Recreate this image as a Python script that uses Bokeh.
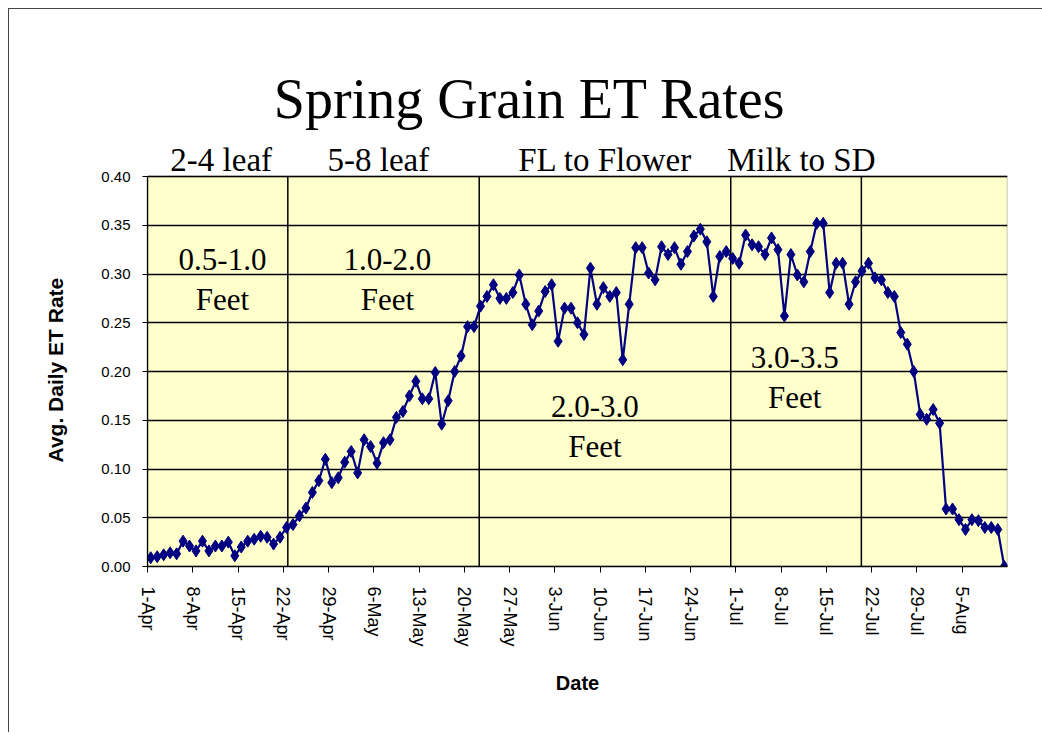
from bokeh.plotting import figure
from bokeh.layouts import column
from bokeh.models import (FixedTicker, NumeralTickFormatter, Label, Range1d, Title,
                          ColumnDataSource, BoxAnnotation)
from bokeh.embed import file_html
from bokeh.resources import INLINE

# ---- data (daily average ET rate, one value per day from 1-Apr) ----
et_rate = [
    0.009, 0.010, 0.012, 0.014, 0.013, 0.026, 0.021, 0.016, 0.026, 0.016,
    0.021, 0.021, 0.025, 0.011, 0.020, 0.026, 0.028, 0.031, 0.030, 0.023,
    0.030, 0.040, 0.043, 0.052, 0.060, 0.076, 0.088, 0.110, 0.086, 0.091,
    0.107, 0.118, 0.096, 0.130, 0.123, 0.106, 0.127, 0.130, 0.153, 0.159,
    0.175, 0.190, 0.172, 0.172, 0.199, 0.146, 0.170, 0.200, 0.216, 0.246,
    0.246, 0.267, 0.277, 0.289, 0.275, 0.275, 0.281, 0.299, 0.269, 0.248,
    0.262, 0.282, 0.289, 0.231, 0.265, 0.265, 0.250, 0.238, 0.306, 0.269,
    0.286, 0.277, 0.281, 0.212, 0.269, 0.327, 0.327, 0.301, 0.294, 0.328,
    0.320, 0.327, 0.310, 0.323, 0.339, 0.346, 0.333, 0.277, 0.318, 0.323,
    0.316, 0.311, 0.340, 0.330, 0.328, 0.320, 0.337, 0.325, 0.257, 0.320,
    0.299, 0.292, 0.323, 0.352, 0.352, 0.281, 0.311, 0.311, 0.269, 0.292,
    0.303, 0.311, 0.296, 0.294, 0.281, 0.277, 0.240, 0.228, 0.200, 0.156,
    0.151, 0.161, 0.147, 0.059, 0.059, 0.048, 0.038, 0.048, 0.047, 0.040,
    0.040, 0.038, 0.000,
]
day_index = list(range(len(et_rate)))

tick_days = [0, 7, 14, 21, 28, 35, 42, 49, 56, 63, 70, 77, 84, 91, 98, 105, 112, 119, 126]
tick_labels = ["1-Apr", "8-Apr", "15-Apr", "22-Apr", "29-Apr", "6-May", "13-May", "20-May",
               "27-May", "3-Jun", "10-Jun", "17-Jun", "24-Jun", "1-Jul", "8-Jul", "15-Jul",
               "22-Jul", "29-Jul", "5-Aug"]
y_ticks = [0.0, 0.05, 0.10, 0.15, 0.20, 0.25, 0.30, 0.35, 0.40]

stage_names = ["2-4 leaf", "5-8 leaf", "FL to Flower", "Milk to SD"]
stage_bounds = [21.7, 51.3, 90.2, 110.4]
height_ranges = ["0.5-1.0", "1.0-2.0", "2.0-3.0", "3.0-3.5"]

SANS = "Liberation Sans"
SERIF = "Liberation Serif"

n_slots = len(et_rate)
y_lo, y_hi = y_ticks[0], y_ticks[-1]
PX = (y_hi - y_lo) / 390.0          # data units per pixel of the plot area
HEAD = 167                           # header room above the plot area, in px

p = figure(frame_width=860, frame_height=390 + HEAD,
           x_range=Range1d(0, n_slots), y_range=Range1d(y_lo, y_hi + HEAD * PX),
           output_backend="svg", toolbar_location=None,
           min_border_left=136, min_border_right=36,
           min_border_top=0, min_border_bottom=166,
           background_fill_color="white", border_fill_color="white")
p.outline_line_color = None

# plot area background and border
p.add_layout(BoxAnnotation(left=0, right=n_slots, bottom=y_lo, top=y_hi,
                           fill_color="#FFFFCC", fill_alpha=1.0, line_color=None,
                           level="image"))
p.add_layout(BoxAnnotation(left=0, right=n_slots, bottom=y_lo, top=y_hi,
                           fill_color=None, fill_alpha=0, line_color="black",
                           line_width=1.5, level="overlay"))

p.xgrid.visible = False
p.ygrid.ticker = FixedTicker(ticks=y_ticks)
p.ygrid.grid_line_color = "black"
p.ygrid.grid_line_width = 1.3

ya = p.yaxis[0]
ya.bounds = (y_lo, y_hi)
ya.ticker = FixedTicker(ticks=y_ticks)
ya.formatter = NumeralTickFormatter(format="0.00")
ya.axis_line_color = "black"
ya.axis_line_width = 1.3
ya.major_tick_out = 5
ya.major_tick_in = 0
ya.minor_tick_out = 0
ya.minor_tick_in = 0
ya.major_tick_line_color = "black"
ya.major_label_text_font = SANS
ya.major_label_text_font_size = "15px"
ya.major_label_text_color = "black"
ya.major_label_standoff = 12

# y-axis title, placed along the plot area (not the taller frame)
p.add_layout(Title(text="Avg. Daily ET Rate", align="left", offset=104, standoff=64,
                   text_font=SANS, text_font_style="bold", text_font_size="21px",
                   text_color="black"), "left")

xa = p.xaxis[0]
xa.ticker = FixedTicker(ticks=tick_days)
xa.major_label_overrides = {d: lab for d, lab in zip(tick_days, tick_labels)}
xa.major_label_orientation = "vertical"
xa.axis_line_color = "black"
xa.axis_line_width = 1.3
xa.major_tick_out = 6
xa.major_tick_in = 0
xa.minor_tick_out = 0
xa.minor_tick_in = 0
xa.major_tick_line_color = "black"
xa.major_label_text_font = SANS
xa.major_label_text_font_size = "18px"
xa.major_label_text_color = "black"
xa.major_label_standoff = 14
xa.axis_label = "Date"
xa.axis_label_text_font = SANS
xa.axis_label_text_font_style = "bold"
xa.axis_label_text_font_size = "20px"
xa.axis_label_text_color = "black"
xa.axis_label_standoff = 22

# growth stage boundaries
p.segment(x0=stage_bounds, y0=[y_lo] * len(stage_bounds),
          x1=stage_bounds, y1=[y_hi] * len(stage_bounds),
          line_color="black", line_width=1.5)

# data series (points at the centre of each day slot)
src = ColumnDataSource(dict(x=[d + 0.5 for d in day_index], y=et_rate))
p.line("x", "y", source=src, line_color="#000080", line_width=2.2)
p.scatter("x", "y", source=src, marker="diamond", size=12,
          fill_color="#000080", line_color="#000080")

# title
p.add_layout(Label(x=59.1, y=y_lo + 468 * PX, text="Spring Grain ET Rates", text_font=SERIF,
                   text_font_size="56px", text_color="black",
                   text_align="center", text_baseline="alphabetic"))

# stage names above the plot area
stage_x = [11.4, 35.7, 70.8, 101.1]
for sx, name in zip(stage_x, stage_names):
    p.add_layout(Label(x=sx, y=y_lo + 407 * PX, text=name, text_font=SERIF,
                       text_font_size="33px", text_color="black",
                       text_align="center", text_baseline="alphabetic"))

# crop height labels inside the plot area
height_x = [11.6, 37.1, 69.2, 100.1]
height_y = [0.3153, 0.3153, 0.1644, 0.2146]
for hx, hy, rng in zip(height_x, height_y, height_ranges):
    p.add_layout(Label(x=hx, y=hy, text=rng, text_font=SERIF,
                       text_font_size="31px", text_color="black",
                       text_align="center", text_baseline="alphabetic"))
    p.add_layout(Label(x=hx, y=hy - 0.0415, text="Feet", text_font=SERIF,
                       text_font_size="31px", text_color="black",
                       text_align="center", text_baseline="alphabetic"))

layout = column(p, spacing=0, margin=(8, 0, 0, 8),
                styles={"border-left": "1.5px solid #444", "border-top": "1.5px solid #444"})

open("out.html", "w").write(file_html(layout, INLINE))
